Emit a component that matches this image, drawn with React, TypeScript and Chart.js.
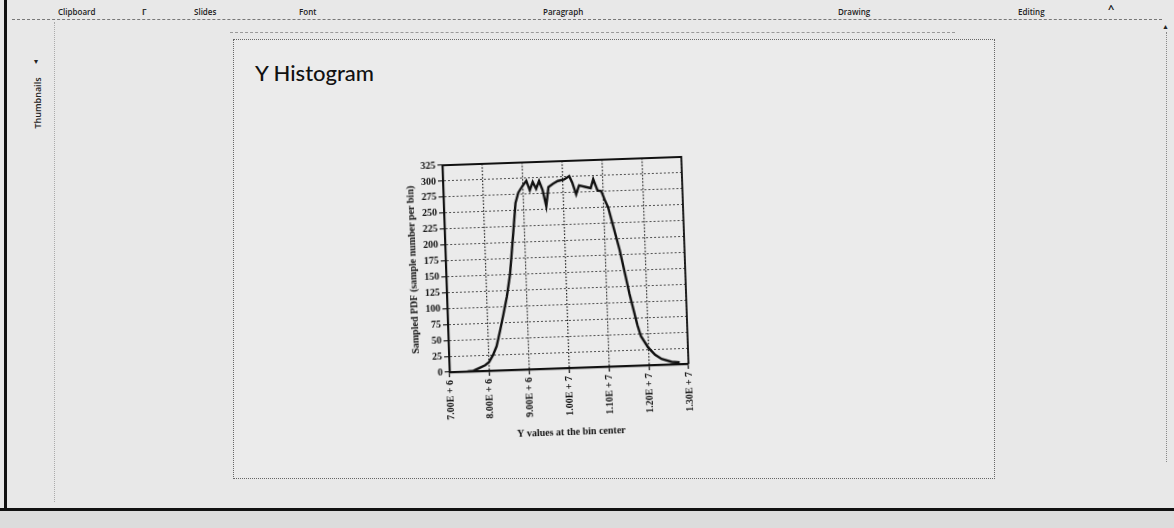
import React, { useEffect, useRef } from "react";
import { Chart, registerables } from "chart.js";

Chart.register(...registerables);

// ---- data ----
const binCenters = [
  7.45e6, 7.6e6, 7.75e6, 7.9e6, 8.0e6, 8.1e6, 8.2e6, 8.3e6, 8.4e6, 8.5e6,
  8.6e6, 8.7e6, 8.8e6, 8.88e6, 9.0e6, 9.09e6, 9.17e6, 9.25e6, 9.33e6, 9.41e6,
  9.49e6, 9.57e6, 9.64e6, 9.76e6, 9.88e6, 10.04e6, 10.17e6, 10.24e6, 10.33e6, 10.41e6,
  10.58e6, 10.7e6, 10.77e6, 10.87e6, 10.96e6, 11.04e6, 11.12e6, 11.25e6, 11.37e6, 11.5e6,
  11.58e6, 11.67e6, 11.75e6, 11.83e6, 12.0e6, 12.17e6, 12.33e6, 12.58e6, 12.78e6,
];
const sampleCounts = [
  0, 1, 5, 9, 14, 24, 38, 62, 88, 115,
  150, 205, 262, 278, 289, 296, 281, 294, 283, 295,
  281, 255, 285, 290, 294, 296, 301, 291, 272, 286,
  283, 281, 295, 277, 276, 262, 250, 215, 183, 140,
  113, 87, 64, 46, 28, 16, 9, 4, 3,
];
const xTickValues = [7e6, 8e6, 9e6, 1e7, 1.1e7, 1.2e7, 1.3e7];
const xTickLabels = ["7.00E + 6", "8.00E + 6", "9.00E + 6", "1.00E + 7", "1.10E + 7", "1.20E + 7", "1.30E + 7"];
const yTickValues = [0, 25, 50, 75, 100, 125, 150, 175, 200, 225, 250, 275, 300, 325];
const xAxisTitle = "Y values at the bin center";
const yAxisTitle = "Sampled PDF (sample number per bin)";
const slideTitle = "Y Histogram";
const ribbonGroups = [
  { text: "Clipboard", x: 58 },
  { text: "Slides", x: 194 },
  { text: "Font", x: 299 },
  { text: "Paragraph", x: 543 },
  { text: "Drawing", x: 838 },
  { text: "Editing", x: 1018 },
];

const serif = "'Liberation Serif', 'Times New Roman', serif";
const ink = "#111111";

const framePlugin = {
  id: "plotFrame",
  beforeDatasetsDraw(chart: any) {
    const { ctx, chartArea } = chart;
    const { left, top, right, bottom } = chartArea;
    ctx.save();
    ctx.strokeStyle = ink;
    ctx.lineWidth = 1.8;
    ctx.beginPath();
    ctx.moveTo(left, top);
    ctx.lineTo(right, top);
    ctx.lineTo(right, bottom);
    ctx.stroke();
    ctx.restore();
  },
};

function HistogramChart() {
  const ref = useRef<HTMLCanvasElement | null>(null);
  useEffect(() => {
    if (!ref.current) return;
    const tickFont = { family: serif, size: 10, weight: "bold" as const };
    const chart = new Chart(ref.current, {
      type: "line",
      data: {
        datasets: [
          {
            data: binCenters.map((x, i) => ({ x, y: sampleCounts[i] })),
            borderColor: ink,
            borderWidth: 2.4,
            pointRadius: 0,
            fill: false,
            tension: 0,
          },
        ],
      },
      options: {
        animation: false,
        responsive: true,
        maintainAspectRatio: false,
        layout: { padding: { top: 9, right: 10, left: 0, bottom: 0 } },
        plugins: { legend: { display: false }, tooltip: { enabled: false } },
        scales: {
          x: {
            type: "linear",
            min: xTickValues[0],
            max: xTickValues[xTickValues.length - 1],
            afterBuildTicks: (scale: any) => {
              scale.ticks = xTickValues.map((v) => ({ value: v }));
            },
            afterFit: (scale: any) => {
              scale.height = 70;
            },
            ticks: {
              autoSkip: false,
              minRotation: 90,
              maxRotation: 90,
              padding: 3,
              color: ink,
              font: tickFont,
              callback: (_v: any, i: number) => xTickLabels[i],
            },
            grid: { color: "#1e1e1e", lineWidth: 1.2, tickLength: 5, tickColor: ink, tickBorderDash: [] },
            border: { display: true, color: ink, width: 2.2, dash: [1.5, 1.8] },
            title: { display: true, text: xAxisTitle, color: ink, font: tickFont, padding: { top: 0, bottom: 0 } },
          },
          y: {
            type: "linear",
            min: 0,
            max: 325,
            afterBuildTicks: (scale: any) => {
              scale.ticks = yTickValues.map((v) => ({ value: v }));
            },
            afterFit: (scale: any) => {
              scale.width = 41;
            },
            ticks: { padding: 2, color: ink, font: tickFont },
            grid: { color: "#2a2a2a", lineWidth: 1.1, tickLength: 5, tickColor: ink, tickBorderDash: [] },
            border: { display: true, color: ink, width: 2.2, dash: [1.6, 2.4] },
            title: { display: true, text: yAxisTitle, color: ink, font: { family: serif, size: 10, weight: "bold" }, padding: { top: 2, bottom: 0 } },
          },
        },
      },
      plugins: [framePlugin],
    } as any);
    return () => chart.destroy();
  }, []);
  return (
    <div
      style={{
        position: "absolute",
        left: 405,
        top: 152,
        width: 295,
        height: 286,
        transform: "rotate(-2deg)",
        transformOrigin: "162px 113px",
      }}
    >
      <canvas ref={ref} />
    </div>
  );
}

export default function App() {
  const ui = "'Open Sans', 'Noto Sans', sans-serif";
  return (
    <div
      style={{
        position: "absolute",
        left: 0,
        top: 0,
        width: 1174,
        height: 528,
        overflow: "hidden",
        background: "#e8e8e8",
        fontFamily: ui,
      }}
    >
      {/* ribbon group labels */}
      {ribbonGroups.map((g) => (
        <div
          key={g.text}
          style={{ position: "absolute", left: g.x, top: 6, fontSize: 8, fontWeight: 600, color: "#222" }}
        >
          {g.text}
        </div>
      ))}
      <div style={{ position: "absolute", left: 142, top: 6, fontSize: 8, fontWeight: 700, color: "#333" }}>Γ</div>
      <div style={{ position: "absolute", left: 1108, top: 1, fontSize: 11, fontWeight: 700, color: "#222" }}>^</div>
      <div style={{ position: "absolute", left: 1162, top: 22, fontSize: 7, color: "#222" }}>▲</div>
      {/* ribbon bottom dashed line */}
      <div style={{ position: "absolute", left: 12, top: 19, width: 1150, borderTop: "1px dashed #777" }} />
      <div style={{ position: "absolute", left: 230, top: 32, width: 725, borderTop: "1px dashed #999" }} />
      {/* left black edge */}
      <div style={{ position: "absolute", left: 4, top: 0, width: 3, height: 510, background: "#111" }} />
      {/* bottom edge */}
      <div style={{ position: "absolute", left: 0, top: 508, width: 1174, height: 3, background: "#111" }} />
      <div style={{ position: "absolute", left: 0, top: 511, width: 1174, height: 17, background: "#dcdcdc" }} />
      {/* thumbnails pane */}
      <div style={{ position: "absolute", left: 54, top: 22, height: 480, borderLeft: "1px dotted #aaa" }} />
      <div style={{ position: "absolute", left: 34, top: 55, fontSize: 8, color: "#222" }}>▾</div>
      <div
        style={{
          position: "absolute",
          left: 37,
          top: 103,
          fontSize: 9,
          fontWeight: 600,
          color: "#222",
          transform: "translate(-50%, -50%) rotate(-90deg)",
          whiteSpace: "nowrap",
        }}
      >
        Thumbnails
      </div>
      {/* right scrollbar */}
      <div style={{ position: "absolute", left: 1166, top: 32, height: 430, borderLeft: "1px dotted #888" }} />
      {/* slide */}
      <div
        style={{
          position: "absolute",
          left: 233,
          top: 39,
          width: 760,
          height: 438,
          border: "1px dotted #666",
          background: "#ebebeb",
        }}
      />
      <div
        style={{
          position: "absolute",
          left: 255,
          top: 59,
          fontFamily: "Lato, 'Open Sans', sans-serif",
          fontSize: 22,
          fontWeight: 500,
          color: "#111",
        }}
      >
        {slideTitle}
      </div>
      <HistogramChart />
    </div>
  );
}
